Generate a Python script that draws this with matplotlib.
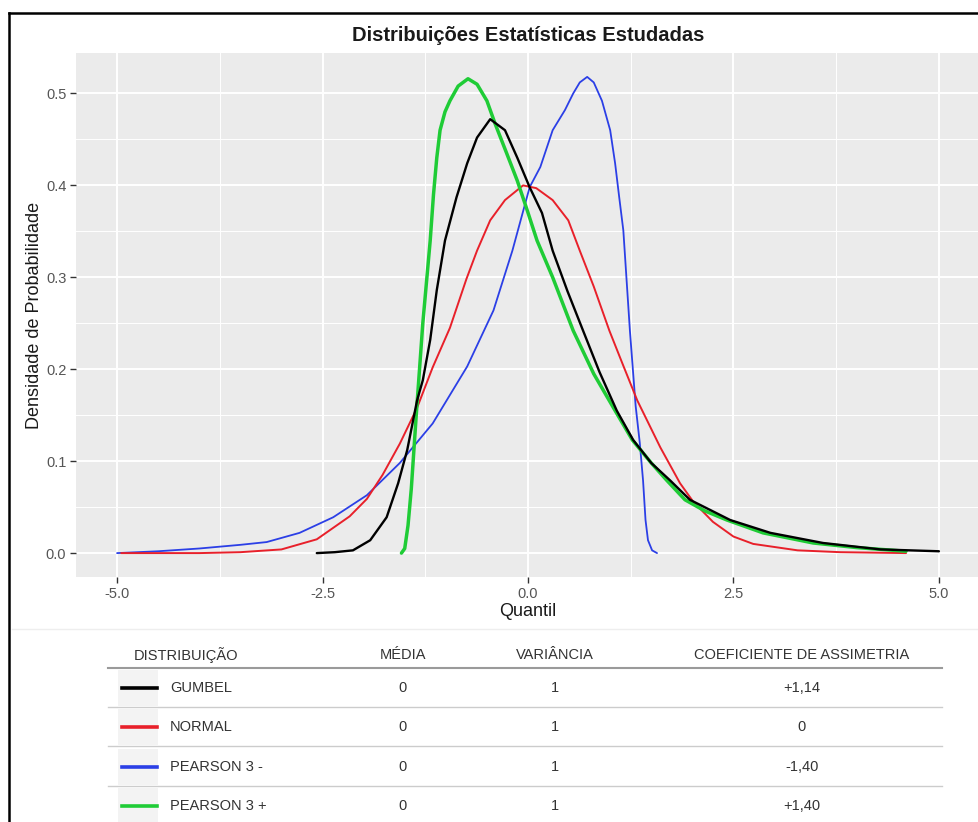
import numpy as np
import matplotlib.pyplot as plt

plt.rcParams['font.family'] = ['Liberation Sans', 'DejaVu Sans']

# curvas de densidade (quantil, densidade)
gumbel_x = [-2.57, -2.35, -2.13, -1.92, -1.72, -1.58, -1.47, -1.35, -1.28, -1.19, -1.11, -1.01,
            -0.87, -0.74, -0.62, -0.46, -0.28, -0.13, 0.02, 0.17, 0.30, 0.48, 0.67, 0.87,
            1.08, 1.28, 1.50, 1.73, 1.97, 2.46, 2.95, 3.59, 4.29, 5.00]
gumbel_y = [0.000, 0.001, 0.003, 0.014, 0.039, 0.076, 0.112, 0.166, 0.188, 0.232, 0.286, 0.340,
            0.387, 0.424, 0.452, 0.472, 0.460, 0.430, 0.398, 0.370, 0.329, 0.285, 0.242, 0.197,
            0.155, 0.123, 0.098, 0.079, 0.058, 0.036, 0.022, 0.011, 0.004, 0.002]

normal_x = [-4.95, -4.00, -3.50, -3.00, -2.57, -2.17, -1.96, -1.77, -1.56, -1.35, -1.16, -0.95,
            -0.75, -0.62, -0.46, -0.28, -0.06, 0.10, 0.30, 0.49, 0.63, 0.80, 0.99, 1.15,
            1.33, 1.61, 1.85, 2.01, 2.25, 2.50, 2.74, 3.28, 3.80, 4.60]
normal_y = [0.000, 0.000, 0.001, 0.004, 0.015, 0.040, 0.059, 0.085, 0.119, 0.158, 0.202, 0.245,
            0.298, 0.329, 0.362, 0.384, 0.400, 0.397, 0.384, 0.362, 0.329, 0.290, 0.242, 0.206,
            0.166, 0.115, 0.076, 0.056, 0.034, 0.018, 0.010, 0.003, 0.001, 0.000]

p3neg_x = [-5.00, -4.50, -4.00, -3.50, -3.18, -2.78, -2.37, -1.96, -1.56, -1.16, -0.74, -0.42,
           -0.19, 0.02, 0.15, 0.30, 0.45, 0.55, 0.63, 0.72, 0.80, 0.90, 1.00, 1.06,
           1.11, 1.16, 1.24, 1.31, 1.36, 1.40, 1.43, 1.46, 1.51, 1.57]
p3neg_y = [0.000, 0.002, 0.005, 0.009, 0.012, 0.022, 0.039, 0.063, 0.098, 0.141, 0.203, 0.264,
           0.329, 0.398, 0.420, 0.460, 0.482, 0.500, 0.512, 0.518, 0.512, 0.492, 0.460, 0.424,
           0.387, 0.351, 0.242, 0.160, 0.120, 0.079, 0.036, 0.014, 0.003, 0.000]

p3pos_x = [-1.54, -1.50, -1.46, -1.42, -1.39, -1.36, -1.32, -1.28, -1.23, -1.19, -1.15, -1.11,
           -1.07, -1.01, -0.95, -0.85, -0.73, -0.62, -0.50, -0.40, -0.26, -0.13, -0.01, 0.11,
           0.30, 0.55, 0.80, 1.06, 1.27, 1.50, 1.69, 1.91, 2.15, 2.42, 2.86, 3.47, 4.00, 4.60]
p3pos_y = [0.000, 0.005, 0.030, 0.070, 0.110, 0.150, 0.200, 0.250, 0.300, 0.340, 0.390, 0.430,
           0.460, 0.480, 0.492, 0.508, 0.516, 0.510, 0.492, 0.467, 0.435, 0.405, 0.373, 0.340,
           0.300, 0.242, 0.195, 0.155, 0.123, 0.098, 0.079, 0.058, 0.046, 0.036, 0.022, 0.011,
           0.006, 0.002]

# tabela
dist_names = ['GUMBEL', 'NORMAL', 'PEARSON 3 -', 'PEARSON 3 +']
medias = ['0', '0', '0', '0']
variancias = ['1', '1', '1', '1']
assimetria = ['+1,14', '0', '-1,40', '+1,40']
cores = ['black', '#e8202a', '#2b3fe6', '#1fcc36']
espessuras = [1.7, 1.4, 1.3, 2.5]

W, H = 979, 822
fig = plt.figure(figsize=(W / 100, H / 100), dpi=100)

ax = fig.add_axes([76 / W, 1 - 577 / H, (980 - 76) / W, (577 - 53) / H])
ax.set_facecolor('#EBEBEB')
for s in ax.spines.values():
    s.set_visible(False)

curvas = [(p3neg_x, p3neg_y, 2), (normal_x, normal_y, 1), (p3pos_x, p3pos_y, 3), (gumbel_x, gumbel_y, 0)]
for xs, ys, i in curvas:
    ax.plot(xs, ys, color=cores[i], lw=espessuras[i], solid_capstyle='round')

ax.set_xlim(-5.5, 5.5)
ax.set_ylim(-0.026, 0.544)
ax.set_xticks([-5, -2.5, 0, 2.5, 5])
ax.set_xticklabels(['-5.0', '-2.5', '0.0', '2.5', '5.0'])
ax.set_xticks([-3.75, -1.25, 1.25, 3.75], minor=True)
ax.set_yticks([0, 0.1, 0.2, 0.3, 0.4, 0.5])
ax.set_yticklabels(['0.0', '0.1', '0.2', '0.3', '0.4', '0.5'])
ax.set_yticks([0.05, 0.15, 0.25, 0.35, 0.45], minor=True)
ax.grid(which='major', color='white', lw=1.4)
ax.grid(which='minor', color='white', lw=0.7)
ax.set_axisbelow(True)
ax.tick_params(which='major', length=4, width=1, color='#333333', labelcolor='#555555',
               labelsize=10.5, pad=3)
ax.tick_params(which='minor', length=0)

ax.set_title('Distribuições Estatísticas Estudadas', fontsize=14.5, fontweight='bold',
             color='#1a1a1a', pad=9)
ax.set_xlabel('Quantil', fontsize=13, color='#1a1a1a', labelpad=2)
ax.set_ylabel('Densidade de Probabilidade', fontsize=13, color='#1a1a1a', labelpad=2)

# camada em pixels para moldura e tabela
tab = fig.add_axes([0, 0, 1, 1], facecolor='none')
tab.set_xlim(0, W)
tab.set_ylim(H, 0)
tab.axis('off')

tab.plot([9, 9], [13, H], color='black', lw=1.8)
tab.plot([9, W], [13, 13], color='black', lw=1.8)
tab.plot([12, W], [629, 629], color='#eeeeee', lw=1)

fs = 10.5
tc = '#333333'
tab.text(134, 655, 'DISTRIBUIÇÃO', fontsize=fs, color=tc, ha='left', va='center')
tab.text(403, 655, 'MÉDIA', fontsize=fs, color=tc, ha='center', va='center')
tab.text(555, 655, 'VARIÂNCIA', fontsize=fs, color=tc, ha='center', va='center')
tab.text(802, 655, 'COEFICIENTE DE ASSIMETRIA', fontsize=fs, color=tc, ha='center', va='center')
tab.plot([108, 942], [668, 668], color='#9a9a9a', lw=1.5)

linhas_y = [688, 727, 767, 806]
for i, y in enumerate(linhas_y):
    tab.fill_between([118, 158], y - 18, y + 18, color='#f3f3f3', lw=0)
    tab.plot([122, 157], [y, y], color=cores[i], lw=2.6)
    tab.text(170, y, dist_names[i], fontsize=fs, color=tc, ha='left', va='center')
    tab.text(403, y, medias[i], fontsize=fs, color=tc, ha='center', va='center')
    tab.text(555, y, variancias[i], fontsize=fs, color=tc, ha='center', va='center')
    tab.text(802, y, assimetria[i], fontsize=fs, color=tc, ha='center', va='center')
    if i < len(linhas_y) - 1:
        tab.plot([108, 942], [y + 19, y + 19], color='#cccccc', lw=1)

fig.savefig('out.png', dpi=100)
